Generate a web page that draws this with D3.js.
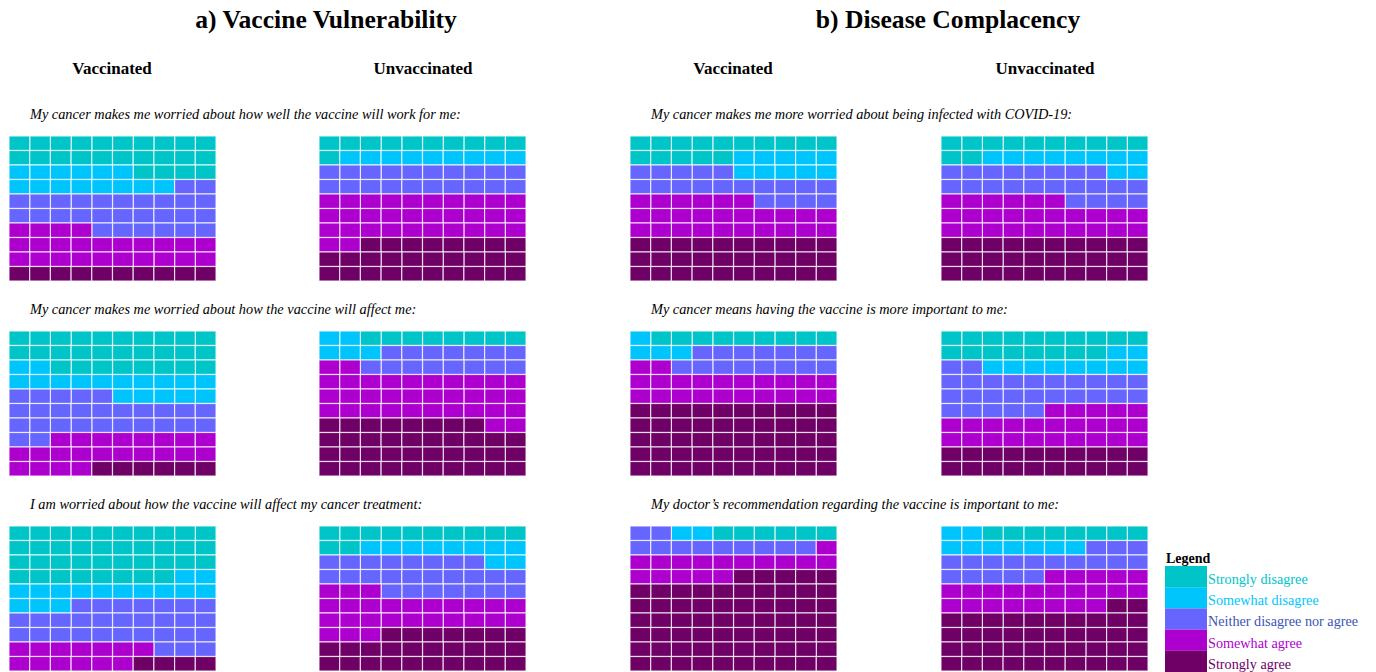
<!DOCTYPE html>
<html>
<head>
<meta charset="utf-8">
<script src="https://cdn.jsdelivr.net/npm/d3@7"></script>
<style>
  body { margin: 0; background: #fff; }
  svg { font-family: "Liberation Serif", "Times New Roman", serif; }
</style>
</head>
<body>
<svg id="chart"></svg>
<script>
const categories = ["Strongly disagree", "Somewhat disagree", "Neither disagree nor agree", "Somewhat agree", "Strongly agree"];
const colors = ["#00c5c8", "#00c5fd", "#6666ff", "#ad00cf", "#6e0066"];
const labelColors = ["#00c5c8", "#00c5fd", "#3b55b5", "#ad00cf", "#6e0066"];

const panels = ["a) Vaccine Vulnerability", "b) Disease Complacency"];
const groups = ["Vaccinated", "Unvaccinated"];

const questionsA = [
  "My cancer makes me worried about how well the vaccine will work for me:",
  "My cancer makes me worried about how the vaccine will affect me:",
  "I am worried about how the vaccine will affect my cancer treatment:"
];
const questionsB = [
  "My cancer makes me more worried about being infected with COVID-19:",
  "My cancer means having the vaccine is more important to me:",
  "My doctor\u2019s recommendation regarding the vaccine is important to me:"
];

// counts out of 100, order follows categories
const vulnVaccinated   = [[24, 14, 28, 24, 10], [28, 17, 27, 22, 6], [38, 15, 30, 13, 4]];
const vulnUnvaccinated = [[11, 9, 20, 32, 28], [8, 5, 15, 34, 38], [12, 10, 25, 26, 27]];
const compVaccinated   = [[15, 10, 19, 26, 30], [9, 4, 15, 22, 50], [6, 2, 11, 16, 65]];
const compUnvaccinated = [[12, 10, 22, 26, 30], [18, 10, 27, 25, 20], [8, 9, 18, 23, 42]];

const width = 1376, height = 672;
const svg = d3.select("#chart").attr("width", width).attr("height", height);

const gridN = 10;
const waffleW = 207, waffleH = 145;
const colX = [9, 319, 630, 941];
const rowY = [136, 331, 526];

const xScale = d3.scaleBand().domain(d3.range(gridN)).range([0, waffleW]).padding(0);
const yScale = d3.scaleBand().domain(d3.range(gridN)).range([0, waffleH]).padding(0);
const color = d3.scaleOrdinal().domain(categories).range(colors);

// snake order: top row goes right to left, next row left to right, etc.
function cells(counts) {
  const out = [];
  let k = 0;
  counts.forEach((c, ci) => {
    for (let i = 0; i < c; i++, k++) {
      const r = Math.floor(k / gridN);
      const p = k % gridN;
      const col = r % 2 === 0 ? gridN - 1 - p : p;
      out.push({ row: r, col: col, cat: categories[ci] });
    }
  });
  return out;
}

function waffle(x, y, counts) {
  const g = svg.append("g").attr("transform", `translate(${x}, ${y})`);
  g.selectAll("rect")
    .data(cells(counts))
    .enter()
    .append("rect")
    .attr("x", d => xScale(d.col))
    .attr("y", d => yScale(d.row))
    .attr("width", xScale.bandwidth())
    .attr("height", yScale.bandwidth())
    .attr("fill", d => color(d.cat))
    .attr("stroke", "#fff")
    .attr("stroke-opacity", 0.75)
    .attr("stroke-width", 1.2);
}

// titles
svg.selectAll(".panel-title")
  .data(panels)
  .enter()
  .append("text")
  .attr("x", (d, i) => i === 0 ? 326 : 948)
  .attr("y", 28)
  .attr("text-anchor", "middle")
  .style("font-size", "25.6px")
  .style("font-weight", "bold")
  .text(d => d);

[0, 1, 2, 3].forEach(i => {
  svg.append("text")
    .attr("x", colX[i] + (i % 2 === 0 ? 103 : 104))
    .attr("y", 74)
    .attr("text-anchor", "middle")
    .style("font-size", "17px")
    .style("font-weight", "bold")
    .text(groups[i % 2]);
});

const sets = [vulnVaccinated, vulnUnvaccinated, compVaccinated, compUnvaccinated];

rowY.forEach((y, r) => {
  svg.append("text")
    .attr("x", 30).attr("y", y - 17)
    .style("font-size", "14.3px").style("font-style", "italic")
    .text(questionsA[r]);
  svg.append("text")
    .attr("x", 651).attr("y", y - 17)
    .style("font-size", "14.3px").style("font-style", "italic")
    .text(questionsB[r]);
  sets.forEach((s, c) => waffle(colX[c], y, s[r]));
});

// legend
const legend = svg.append("g").attr("transform", "translate(1165, 566)");
legend.append("text")
  .attr("x", 1).attr("y", -3)
  .style("font-size", "14px").style("font-weight", "bold")
  .text("Legend");
const ly = d3.scaleBand().domain(categories).range([0, 106]);
legend.selectAll("rect")
  .data(categories)
  .enter()
  .append("rect")
  .attr("x", 0)
  .attr("y", d => ly(d))
  .attr("width", 42)
  .attr("height", ly.bandwidth())
  .attr("fill", d => color(d));
legend.selectAll(".lab")
  .data(categories)
  .enter()
  .append("text")
  .attr("x", 43)
  .attr("y", d => ly(d) + 18)
  .style("font-size", "14.2px")
  .attr("fill", (d, i) => labelColors[i])
  .text(d => d);
</script>
</body>
</html>
